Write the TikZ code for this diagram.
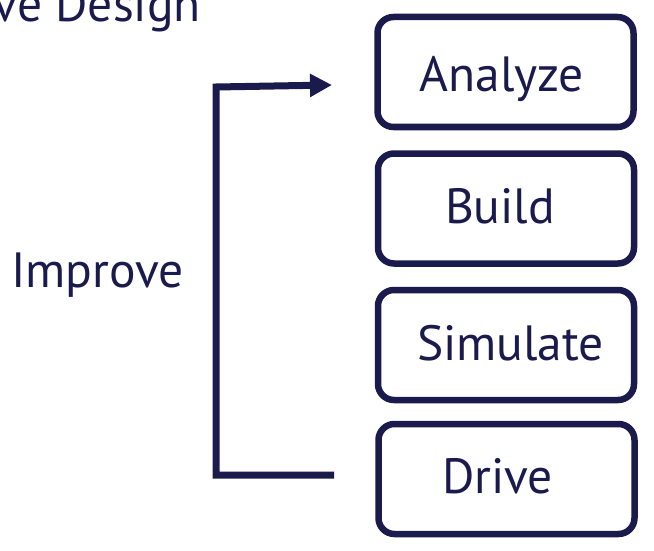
\documentclass[tikz,border=0pt]{standalone}
\usepackage{fontspec}
\setmainfont{PT Sans}
\usetikzlibrary{arrows.meta}
\definecolor{navy}{RGB}{26,26,76}
\begin{document}
\begin{tikzpicture}[x=1pt,y=-1pt,
  stepbox/.style={draw=navy,line width=6.5pt,rounded corners=16pt,minimum width=256pt,minimum height=110pt,inner sep=0pt},
  lbl/.style={text=navy,font=\fontsize{49.5}{54}\selectfont,inner sep=0pt,anchor=base},
  conn/.style={draw=navy,line width=7pt}]
\useasboundingbox (0,0) rectangle (654,551);
\clip (0,0) rectangle (654,551);
\node[stepbox] (A) at (505.5,72) {};
\node[stepbox] (B) at (506,208.5) {};
\node[stepbox] (S) at (506,345) {};
\node[stepbox] (D) at (506.5,479) {};
\node[lbl] (tA) at (502,92) {Analyze};
\node[lbl] (tB) at (500,223) {Build};
\node[lbl] (tS) at (510.5,360) {Simulate};
\node[lbl] (tD) at (497.5,493) {Drive};
\node[lbl,anchor=base west] (imp) at (11,287) {Improve};
\node[lbl,anchor=base east] (title) at (201,22) {ve Design};
\coordinate (s) at (334,475);
\coordinate (c1) at (216,475);
\coordinate (c2) at (216,87);
\coordinate (e) at (332,85);
\draw[conn,-{Triangle[length=22pt,width=22pt]}] (s) -- (c1) -- (c2) -- (e);
\end{tikzpicture}
\end{document}
